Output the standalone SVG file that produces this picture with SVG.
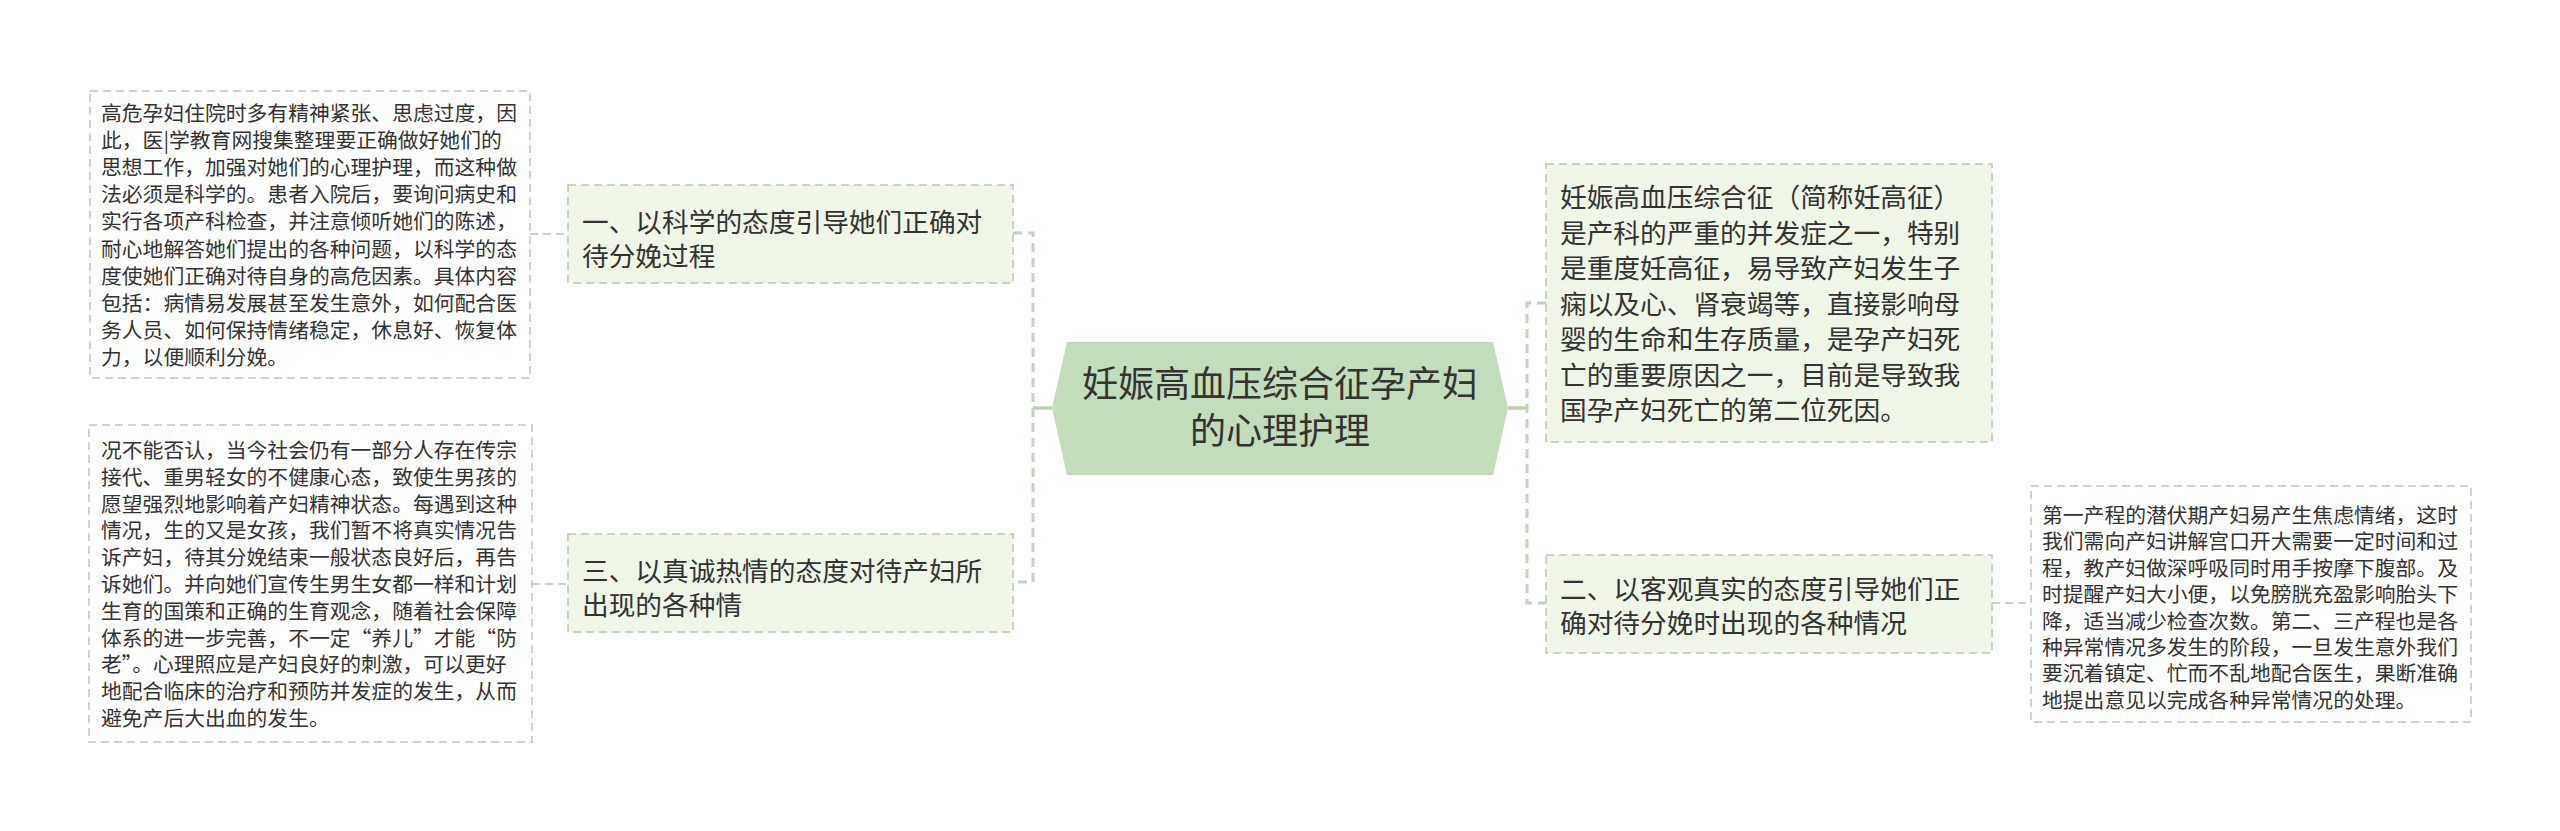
<svg xmlns="http://www.w3.org/2000/svg" width="2560" height="831" viewBox="0 0 2560 831">
<style>
text{font-family:"Noto Sans CJK SC","Noto Sans",sans-serif;fill:#333333;}
.d{font-size:20.8px;}
.t{font-size:26.7px;}
.c{font-size:36px;text-anchor:middle;}
.dbox{fill:#ffffff;stroke:#c3c7c2;stroke-width:1.5;stroke-dasharray:8 5;}
.tbox{fill:#eff6e8;stroke:#bcc7b8;stroke-width:1.5;stroke-dasharray:8 5;}
.spine{fill:none;stroke:#c4d3bf;stroke-width:3;stroke-dasharray:9 6;}
.link{fill:none;stroke:#c0c8bd;stroke-width:1.5;stroke-dasharray:8 5;}
.solid{fill:none;stroke:#bad4b1;stroke-width:3.5;}
</style>
<rect width="2560" height="831" fill="#ffffff"/>
<g id="connectors">
<path class="solid" d="M1033 408 H1052"/>
<path class="solid" d="M1508 408 H1527"/>
<path class="spine" d="M1013 233 H1033 V582 H1013"/>
<path class="spine" d="M1546 303 H1527 V603 H1546"/>
<path class="link" d="M530 234 H568"/>
<path class="link" d="M532 584 H568"/>
<path class="link" d="M1992 603 H2031"/>
</g>
<g id="center">
<polygon points="1052,408 1067,342 1493,342 1508,408 1493,475 1067,475" fill="#c3dcbb"/>
<text class="c" x="1280" y="397">妊娠高血压综合征孕产妇</text>
<text class="c" x="1280" y="444">的心理护理</text>
</g>
<g id="topic1">
<rect class="tbox" x="568" y="185" width="445" height="98"/>
<text class="t" x="582" y="232">一、以科学的态度引导她们正确对</text>
<text class="t" x="582" y="266">待分娩过程</text>
</g>
<g id="topic3">
<rect class="tbox" x="568" y="534" width="445" height="98"/>
<text class="t" x="582" y="581">三、以真诚热情的态度对待产妇所</text>
<text class="t" x="582" y="615">出现的各种情</text>
</g>
<g id="topicR1">
<rect class="tbox" x="1546" y="164" width="446" height="278"/>
<text class="t" x="1560" y="207">妊娠高血压综合征（简称妊高征）</text>
<text class="t" x="1560" y="242.5">是产科的严重的并发症之一，特别</text>
<text class="t" x="1560" y="278">是重度妊高征，易导致产妇发生子</text>
<text class="t" x="1560" y="313.5">痫以及心、肾衰竭等，直接影响母</text>
<text class="t" x="1560" y="349">婴的生命和生存质量，是孕产妇死</text>
<text class="t" x="1560" y="384.5">亡的重要原因之一，目前是导致我</text>
<text class="t" x="1560" y="420">国孕产妇死亡的第二位死因。</text>
</g>
<g id="topic2">
<rect class="tbox" x="1546" y="555" width="446" height="98"/>
<text class="t" x="1560" y="599">二、以客观真实的态度引导她们正</text>
<text class="t" x="1560" y="633">确对待分娩时出现的各种情况</text>
</g>
<g id="detail1">
<rect class="dbox" x="90" y="91" width="440" height="287"/>
<text class="d" x="101" y="121">高危孕妇住院时多有精神紧张、思虑过度，因</text>
<text class="d" x="101" y="148.1">此，医|学教育网搜集整理要正确做好她们的</text>
<text class="d" x="101" y="175.2">思想工作，加强对她们的心理护理，而这种做</text>
<text class="d" x="101" y="202.3">法必须是科学的。患者入院后，要询问病史和</text>
<text class="d" x="101" y="229.4">实行各项产科检查，并注意倾听她们的陈述，</text>
<text class="d" x="101" y="256.5">耐心地解答她们提出的各种问题，以科学的态</text>
<text class="d" x="101" y="283.6">度使她们正确对待自身的高危因素。具体内容</text>
<text class="d" x="101" y="310.7">包括：病情易发展甚至发生意外，如何配合医</text>
<text class="d" x="101" y="337.8">务人员、如何保持情绪稳定，休息好、恢复体</text>
<text class="d" x="101" y="364.9">力，以便顺利分娩。</text>
</g>
<g id="detail3">
<rect class="dbox" x="89" y="425" width="443" height="317"/>
<text class="d" x="101" y="458">况不能否认，当今社会仍有一部分人存在传宗</text>
<text class="d" x="101" y="484.8">接代、重男轻女的不健康心态，致使生男孩的</text>
<text class="d" x="101" y="511.6">愿望强烈地影响着产妇精神状态。每遇到这种</text>
<text class="d" x="101" y="538.4">情况，生的又是女孩，我们暂不将真实情况告</text>
<text class="d" x="101" y="565.2">诉产妇，待其分娩结束一般状态良好后，再告</text>
<text class="d" x="101" y="592">诉她们。并向她们宣传生男生女都一样和计划</text>
<text class="d" x="101" y="618.8">生育的国策和正确的生育观念，随着社会保障</text>
<text class="d" x="101" y="645.6">体系的进一步完善，不一定“养儿”才能“防</text>
<text class="d" x="101" y="672.4">老”。心理照应是产妇良好的刺激，可以更好</text>
<text class="d" x="101" y="699.2">地配合临床的治疗和预防并发症的发生，从而</text>
<text class="d" x="101" y="726">避免产后大出血的发生。</text>
</g>
<g id="detail2">
<rect class="dbox" x="2031" y="486" width="440" height="236"/>
<text class="d" x="2042" y="523">第一产程的潜伏期产妇易产生焦虑情绪，这时</text>
<text class="d" x="2042" y="549.4">我们需向产妇讲解宫口开大需要一定时间和过</text>
<text class="d" x="2042" y="575.8">程，教产妇做深呼吸同时用手按摩下腹部。及</text>
<text class="d" x="2042" y="602.2">时提醒产妇大小便，以免膀胱充盈影响胎头下</text>
<text class="d" x="2042" y="628.6">降，适当减少检查次数。第二、三产程也是各</text>
<text class="d" x="2042" y="655">种异常情况多发生的阶段，一旦发生意外我们</text>
<text class="d" x="2042" y="681.4">要沉着镇定、忙而不乱地配合医生，果断准确</text>
<text class="d" x="2042" y="707.8">地提出意见以完成各种异常情况的处理。</text>
</g>
</svg>
